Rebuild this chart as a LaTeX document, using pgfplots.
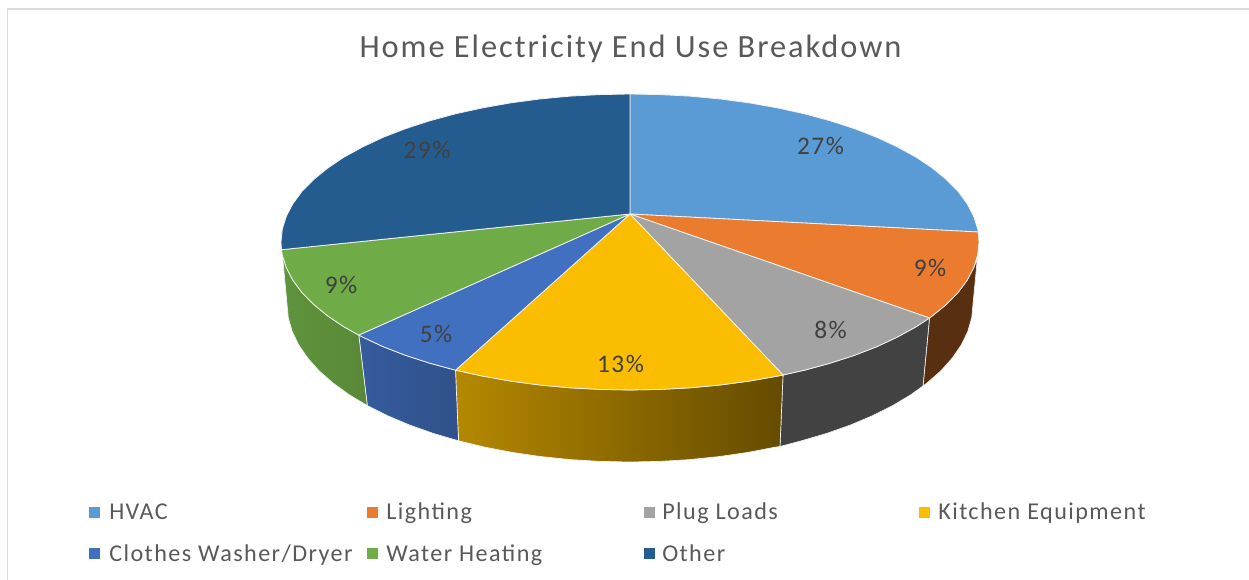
\documentclass[border=0pt]{standalone}
\usepackage{pgfplots}
\pgfplotsset{compat=1.18}
\usepackage{fontspec}
\setmainfont{Carlito}
\newfontfamily\titlefont[LetterSpace=6]{Carlito}
\newfontfamily\legfont[LetterSpace=6]{Carlito}
\definecolor{cH}{HTML}{5B9BD5}
\definecolor{cL}{HTML}{EB7B2F}
\definecolor{cP}{HTML}{A3A3A3}
\definecolor{cK}{HTML}{FBBD00}
\definecolor{cC}{HTML}{4270C0}
\definecolor{cW}{HTML}{6FAB46}
\definecolor{cO}{HTML}{255C90}
\definecolor{txt}{HTML}{595959}
\definecolor{lab}{HTML}{404040}
\definecolor{sep}{HTML}{F2F2F2}
\begin{document}
\begin{tikzpicture}
\begin{axis}[
  scale only axis, width=936.75pt, height=435pt,
  xmin=0, xmax=1249, ymin=0, ymax=580, y dir=reverse,
  hide axis, clip=true,
]
% full canvas, so that the page has the reference's extent
\addplot[draw=none] coordinates {(0,0) (1249,580)};
% frame
\addplot[color=black!15, line width=1.1pt] coordinates {(7.3,580) (7.3,9) (1249,9)};
% side faces
\addplot[fill=black!5!cL!40!black, draw=sep, line width=.5pt] coordinates {
(977.3,259)(973.7,267.7)(967.1,280.3)(958,292.6)(946.3,304.5)(932.2,316)(929.5,318)
(923,386)(927,383)(940.9,370.8)(952.3,358)(961.3,344.9)(967.8,331.4)(971.7,317.8)(973,304)(977.3,259)};
\addplot[fill=black!74, draw=sep, line width=.5pt] coordinates {
(929.5,318)(915.9,326.9)(897.3,337.1)(876.8,346.7)(854.3,355.4)(830.2,363.2)(804.5,370.2)(783,375)
(780,446.5)(801.5,440.8)(826.7,433.4)(850.5,425)(872.5,415.7)(892.7,405.6)(911,394.6)(923,386)(929.5,318)};
\addplot[left color=cK!72!black, right color=cK!40!black, draw=sep, line width=.5pt] coordinates {
(783,375)(777.5,376.1)(749.4,381.1)(720.3,385)(690.6,387.8)(660.4,389.4)(630,390)(599.6,389.4)(569.4,387.8)(539.7,385)(510.6,381.1)(482.5,376.1)(455.5,370.2)
(458.5,440.8)(485,447.2)(512.7,452.5)(541.2,456.6)(570.5,459.6)(600.1,461.4)(630,462)(659.9,461.4)(689.5,459.6)(718.8,456.6)(747.3,452.5)(775,447.2)(780,446.5)(783,375)};
\addplot[left color=cC!82!black, right color=cC!72!black, draw=sep, line width=.5pt] coordinates {
(455.5,370.2)(429.8,363.2)(405.7,355.4)(383.2,346.7)(362.7,337.1)(358.8,335.1)
(367.3,405.6)(387.5,415.7)(409.5,425)(433.3,433.4)(458.5,440.8)(455.5,370.2)};
\addplot[left color=cW!86!black, right color=cW!80!black, draw=sep, line width=.5pt] coordinates {
(358.8,335.1)(344.1,326.9)(327.8,316)(313.7,304.5)(302,292.6)(292.9,280.3)(286.3,267.7)(282.5,255)
(287,304)(288.3,317.8)(292.2,331.4)(298.7,344.9)(307.7,358)(319.1,370.8)(333,383)(349,394.6)(367.3,405.6)(358.8,335.1)};
% top faces
\addplot[fill=cH, draw=sep, line width=.6pt] coordinates {
(630,214)(630,94)(660.4,94.6)(690.6,96.2)(720.3,99)(749.4,102.9)(777.5,107.9)(804.5,113.8)(830.2,120.8)(854.3,128.6)(876.8,137.3)(897.3,146.9)(915.9,157.1)(932.2,168)(946.3,179.5)(958,191.4)(967.1,203.7)(973.7,216.3)(977.7,229.1)(978.2,232)(630,214)};
\addplot[fill=cL, draw=sep, line width=.6pt] coordinates {
(630,214)(978.2,232)(979,242)(977.7,254.9)(973.7,267.7)(967.1,280.3)(958,292.6)(946.3,304.5)(932.2,316)(929.5,318)(630,214)};
\addplot[fill=cP, draw=sep, line width=.6pt] coordinates {
(630,214)(929.5,318)(915.9,326.9)(897.3,337.1)(876.8,346.7)(854.3,355.4)(830.2,363.2)(804.5,370.2)(783,375)(630,214)};
\addplot[fill=cK, draw=sep, line width=.6pt] coordinates {
(630,214)(783,375)(777.5,376.1)(749.4,381.1)(720.3,385)(690.6,387.8)(660.4,389.4)(630,390)(599.6,389.4)(569.4,387.8)(539.7,385)(510.6,381.1)(482.5,376.1)(455.5,370.2)(630,214)};
\addplot[fill=cC, draw=sep, line width=.6pt] coordinates {
(630,214)(455.5,370.2)(429.8,363.2)(405.7,355.4)(383.2,346.7)(362.7,337.1)(358.8,335.1)(630,214)};
\addplot[fill=cW, draw=sep, line width=.6pt] coordinates {
(630,214)(358.8,335.1)(344.1,326.9)(327.8,316)(313.7,304.5)(302,292.6)(292.9,280.3)(286.3,267.7)(282.3,254.9)(281.5,249.7)(630,214)};
\addplot[fill=cO, draw=sep, line width=.6pt] coordinates {
(630,214)(281.5,249.7)(281,242)(282.3,229.1)(286.3,216.3)(292.9,203.7)(302,191.4)(313.7,179.5)(327.8,168)(344.1,157.1)(362.7,146.9)(383.2,137.3)(405.7,128.6)(429.8,120.8)(455.5,113.8)(482.5,107.9)(510.6,102.9)(539.7,99)(569.4,96.2)(599.6,94.6)(630,94)(630,214)};
% legend squares
\addplot[only marks, mark=square*, mark size=3.6pt, color=cH] coordinates {(94,512)};
\addplot[only marks, mark=square*, mark size=3.6pt, color=cL] coordinates {(372,512)};
\addplot[only marks, mark=square*, mark size=3.6pt, color=cP] coordinates {(649,512)};
\addplot[only marks, mark=square*, mark size=3.6pt, color=cK] coordinates {(924,512)};
\addplot[only marks, mark=square*, mark size=3.6pt, color=cC] coordinates {(94,553)};
\addplot[only marks, mark=square*, mark size=3.6pt, color=cW] coordinates {(372,553)};
\addplot[only marks, mark=square*, mark size=3.6pt, color=cO] coordinates {(649,553)};
% title
\node[text=txt, anchor=center, inner sep=0pt, font=\titlefont\fontsize{24.3}{28}\selectfont] at (axis cs:630.5,48.5) {Home Electricity End Use Breakdown};
% data labels
\tikzset{dl/.style={text=lab, anchor=center, inner sep=0pt, font=\legfont\fontsize{19}{22}\selectfont},
 lg/.style={text=txt, anchor=base west, inner sep=0pt, font=\legfont\fontsize{18.1}{21}\selectfont}}
\node[dl] at (axis cs:820.5,145.5) {27\%};
\node[dl] at (axis cs:930,268) {9\%};
\node[dl] at (axis cs:830.5,330) {8\%};
\node[dl] at (axis cs:620.5,364) {13\%};
\node[dl] at (axis cs:436,334) {5\%};
\node[dl] at (axis cs:341,285) {9\%};
\node[dl] at (axis cs:427,150) {29\%};
% legend text
\node[lg] at (axis cs:109,519) {HVAC};
\node[lg] at (axis cs:386,519) {Lighting};
\node[lg] at (axis cs:662,519) {Plug Loads};
\node[lg] at (axis cs:938,519) {Kitchen Equipment};
\node[lg] at (axis cs:109,561) {Clothes Washer/Dryer};
\node[lg] at (axis cs:386,561) {Water Heating};
\node[lg] at (axis cs:662,561) {Other};
\end{axis}
\end{tikzpicture}
\end{document}
